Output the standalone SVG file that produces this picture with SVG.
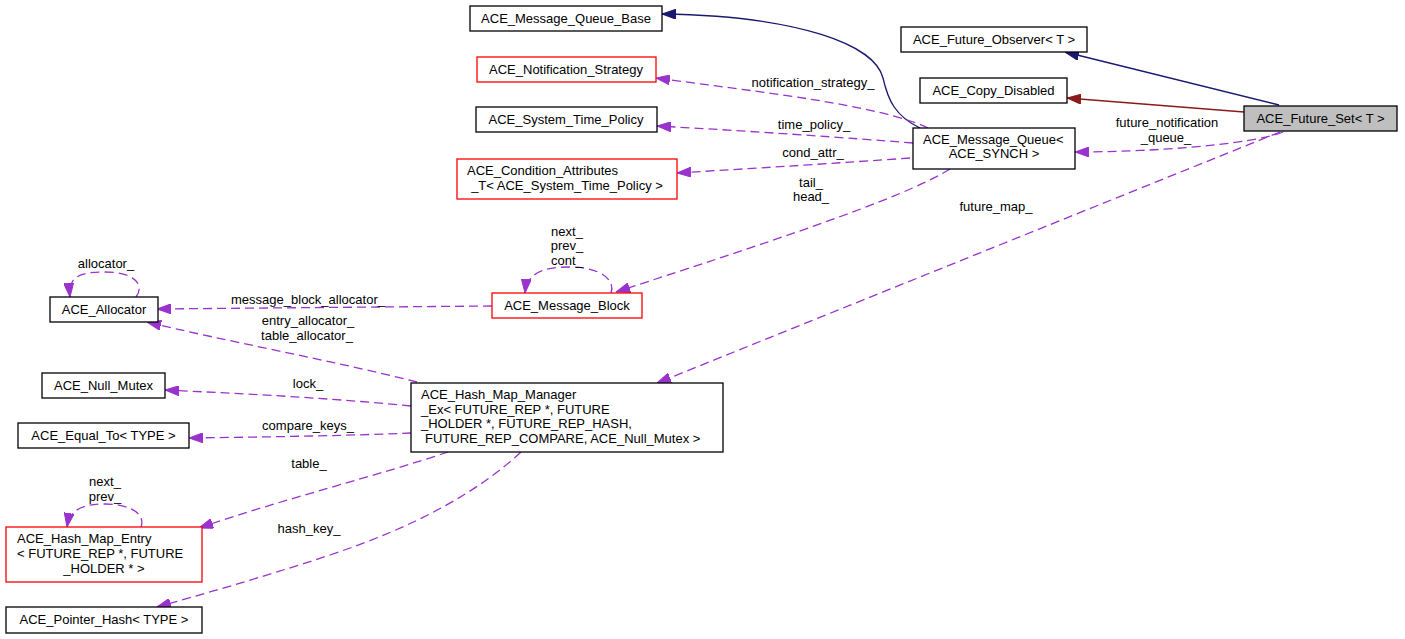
<svg xmlns="http://www.w3.org/2000/svg" width="1405" height="639" viewBox="0 0 1405 639">
<style>
text{font-family:"Liberation Sans",Arial,sans-serif;font-size:13px;fill:#000}
.c{text-anchor:middle}
.box{fill:#fff;stroke:#000;stroke-width:1.3}
.red{fill:#fff;stroke:#ff0000;stroke-width:1.3}
.cur{fill:#bfbfbf;stroke:#000;stroke-width:1.3}
.use{fill:none;stroke:#9a32cd;stroke-width:1.3;stroke-dasharray:9,5;marker-end:url(#ap)}
.inh{fill:none;stroke:#191970;stroke-width:1.3;marker-end:url(#ab)}
.prv{fill:none;stroke:#8b1a1a;stroke-width:1.3;marker-end:url(#ar)}
</style>
<defs>
<marker id="ap" markerUnits="userSpaceOnUse" markerWidth="14" markerHeight="10" viewBox="0 0 14 10" refX="14" refY="5" orient="auto"><path d="M0,0 L14,5 L0,10 z" fill="#9a32cd" stroke="#9a32cd" stroke-width="1"/></marker>
<marker id="ab" markerUnits="userSpaceOnUse" markerWidth="14" markerHeight="10" viewBox="0 0 14 10" refX="14" refY="5" orient="auto"><path d="M0,0 L14,5 L0,10 z" fill="#191970" stroke="#191970" stroke-width="1"/></marker>
<marker id="ar" markerUnits="userSpaceOnUse" markerWidth="14" markerHeight="10" viewBox="0 0 14 10" refX="14" refY="5" orient="auto"><path d="M0,0 L14,5 L0,10 z" fill="#8b1a1a" stroke="#8b1a1a" stroke-width="1"/></marker>
</defs>
<rect width="1405" height="639" fill="#fff"/>
<g id="connectors">
<path class="inh" d="M1279,105 L1065,52"/>
<path class="prv" d="M1244,112 L1067,98"/>
<path class="inh" d="M920,128 C895,116 888,100 883,78 C875,45 800,16 662,14"/>
<path class="use" d="M928,128 C880,105 760,92 656,78"/>
<path class="use" d="M913,143 C850,138 750,131 657,126"/>
<path class="use" d="M910,158 C840,163 760,168 677,173"/>
<path class="use" d="M950,169 C900,200 760,245 616,292"/>
<path class="use" d="M611,293 C616,280 600,267 570,267 C545,267 527,272 525,293"/>
<path class="use" d="M492,306 L157,309"/>
<path class="use" d="M136,297 C145,285 135,272 105,272 C80,272 68,276 70,297"/>
<path class="use" d="M417,382 C330,360 220,340 147,322"/>
<path class="use" d="M411,406 C330,398 250,394 165,390"/>
<path class="use" d="M411,433 C340,436 260,437 189,438"/>
<path class="use" d="M448,452 C380,475 280,500 199,528"/>
<path class="use" d="M141,527 C146,514 130,504 105,504 C85,504 70,508 67,527"/>
<path class="use" d="M521,452 C480,490 420,525 330,555 C260,578 200,595 157,607"/>
<path class="use" d="M1280,132 L657,383"/>
<path class="use" d="M1283,132 C1250,145 1150,152 1075,152"/>
<text class="c" x="813" y="87">notification_strategy_</text>
<text class="c" x="814" y="129">time_policy_</text>
<text class="c" x="813" y="157">cond_attr_</text>
<text class="c" x="811" y="187">tail_</text>
<text class="c" x="811" y="201">head_</text>
<text class="c" x="567" y="236">next_</text>
<text class="c" x="567" y="250">prev_</text>
<text class="c" x="567" y="265">cont_</text>
<text class="c" x="308" y="304">message_block_allocator_</text>
<text class="c" x="106" y="268">allocator_</text>
<text class="c" x="308" y="325">entry_allocator_</text>
<text class="c" x="307" y="340">table_allocator_</text>
<text class="c" x="308" y="388">lock_</text>
<text class="c" x="308" y="430">compare_keys_</text>
<text class="c" x="309" y="468">table_</text>
<text class="c" x="105" y="486">next_</text>
<text class="c" x="105" y="501">prev_</text>
<text class="c" x="309" y="533">hash_key_</text>
<text class="c" x="996" y="211">future_map_</text>
<text class="c" x="1167" y="127">future_notification</text>
<text class="c" x="1166" y="142">_queue_</text>
</g>
<g id="n_mq_base"><rect class="box" x="470" y="6" width="192" height="25"/><text class="c" x="566" y="23">ACE_Message_Queue_Base</text></g>
<g id="n_notif"><rect class="red" x="477" y="57" width="179" height="25"/><text class="c" x="566" y="74">ACE_Notification_Strategy</text></g>
<g id="n_stp"><rect class="box" x="476" y="107" width="181" height="25"/><text class="c" x="566" y="124">ACE_System_Time_Policy</text></g>
<g id="n_cond"><rect class="red" x="457" y="159" width="220" height="40"/><text x="467" y="175">ACE_Condition_Attributes</text><text class="c" x="567" y="190">_T&lt; ACE_System_Time_Policy &gt;</text></g>
<g id="n_mq"><rect class="box" x="913" y="128" width="162" height="41"/><text x="923" y="144">ACE_Message_Queue&lt;</text><text class="c" x="994" y="158">ACE_SYNCH &gt;</text></g>
<g id="n_obs"><rect class="box" x="901" y="27" width="186" height="25"/><text class="c" x="994" y="44">ACE_Future_Observer&lt; T &gt;</text></g>
<g id="n_copy"><rect class="box" x="920" y="78" width="147" height="25"/><text class="c" x="993.5" y="95">ACE_Copy_Disabled</text></g>
<g id="n_set"><rect class="cur" x="1244" y="106" width="153" height="25"/><text class="c" x="1320.5" y="123">ACE_Future_Set&lt; T &gt;</text></g>
<g id="n_alloc"><rect class="box" x="50" y="297" width="108" height="25"/><text class="c" x="104" y="314">ACE_Allocator</text></g>
<g id="n_mb"><rect class="red" x="492" y="293" width="150" height="25"/><text class="c" x="567" y="310">ACE_Message_Block</text></g>
<g id="n_mutex"><rect class="box" x="42" y="373" width="123" height="25"/><text class="c" x="103.5" y="390">ACE_Null_Mutex</text></g>
<g id="n_eq"><rect class="box" x="18" y="423" width="171" height="25"/><text class="c" x="103.5" y="440">ACE_Equal_To&lt; TYPE &gt;</text></g>
<g id="n_hmm"><rect class="box" x="411" y="383" width="312" height="69"/><text x="421" y="399">ACE_Hash_Map_Manager</text><text x="421" y="414">_Ex&lt; FUTURE_REP *, FUTURE</text><text x="421" y="428">_HOLDER *, FUTURE_REP_HASH,</text><text x="425" y="443">FUTURE_REP_COMPARE, ACE_Null_Mutex &gt;</text></g>
<g id="n_hme"><rect class="red" x="6" y="527" width="196" height="55"/><text x="17" y="543">ACE_Hash_Map_Entry</text><text x="17" y="558">&lt; FUTURE_REP *, FUTURE</text><text class="c" x="104" y="573">_HOLDER * &gt;</text></g>
<g id="n_ph"><rect class="box" x="6" y="607" width="196" height="26"/><text class="c" x="104" y="624">ACE_Pointer_Hash&lt; TYPE &gt;</text></g>
</svg>
